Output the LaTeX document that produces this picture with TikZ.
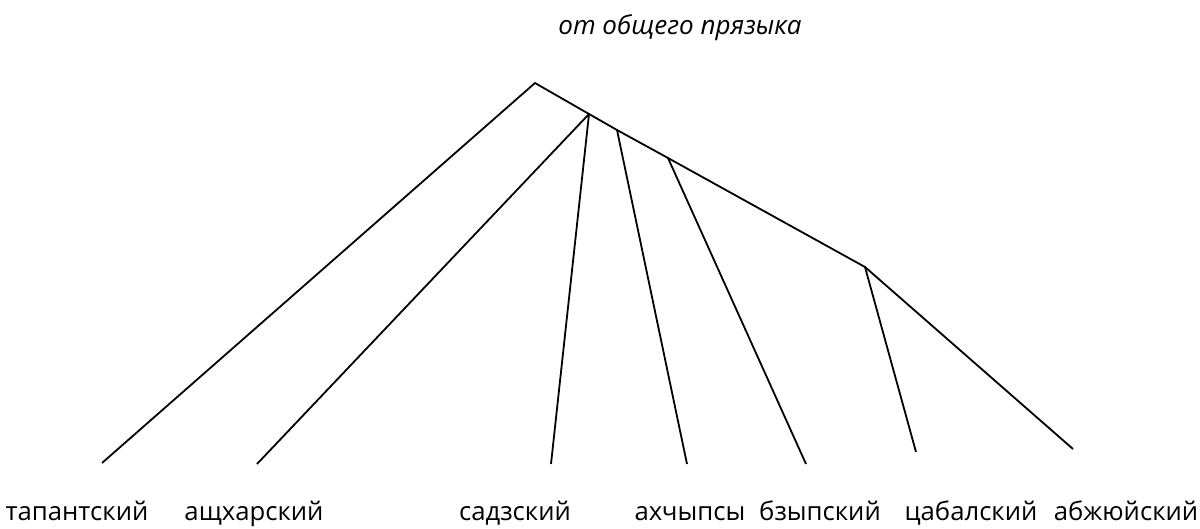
\documentclass[tikz,border=0pt]{standalone}
\usepackage{fontspec}
\setmainfont{Open Sans}
\usetikzlibrary{positioning}

\begin{document}
\begin{tikzpicture}[x=1pt,y=-1pt,
    leaf/.style={anchor=base, inner sep=0pt, font=\fontsize{25.7}{30}\selectfont},
    edge/.style={line width=1.8pt}
]
\useasboundingbox (0,0) rectangle (1200,528);

\node[anchor=base, inner sep=0pt, font=\fontsize{26}{30}\selectfont\itshape] (title) at (680,34) {от общего прязыка};

% branching points
\coordinate (root) at (535,83);
\coordinate (b1) at (589,114);
\coordinate (b2) at (617,130);
\coordinate (b3) at (668,158);
\coordinate (b4) at (865,267);

% line ends
\coordinate (e1) at (102,463);
\coordinate (e2) at (257,464);
\coordinate (e3) at (551,464);
\coordinate (e4) at (687,464);
\coordinate (e5) at (806,464);
\coordinate (e6) at (916,452);
\coordinate (e7) at (1073,449);

\draw[edge] (e1) -- (root) -- (b1) -- (b2) -- (b3) -- (b4) -- (e7);
\draw[edge] (b1) -- (e2);
\draw[edge] (b1) -- (e3);
\draw[edge] (b2) -- (e4);
\draw[edge] (b3) -- (e5);
\draw[edge] (b4) -- (e6);

\node[leaf] (tap) at (77,520) {тапантский};
\node[leaf] (ash) at (254,520) {ащхарский};
\node[leaf] (sad) at (515,520) {садзский};
\node[leaf] (akh) at (690,520) {ахчыпсы};
\node[leaf] (bzy) at (820,520) {бзыпский};
\node[leaf] (tsa) at (971,520) {цабалский};
\node[leaf] (abzh) at (1126,520) {абжюйский};
\end{tikzpicture}
\end{document}
